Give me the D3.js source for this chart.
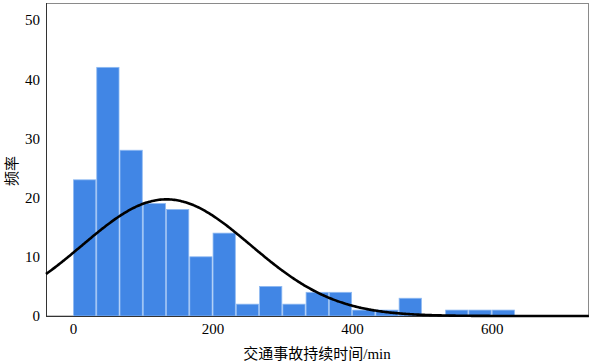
<!DOCTYPE html>
<html>
<head>
<meta charset="utf-8">
<script src="https://d3js.org/d3.v7.min.js"></script>
<style>
    body { margin: 0; background: #fff; }
    .lbl { font-family: "Liberation Serif", "Noto Sans CJK SC", serif; font-size: 15px; fill: #000; }
</style>
</head>
<body>
<svg width="591" height="363"></svg>
<script>
    // histogram counts, bins of width 600/18 starting at 0
    var binWidth = 600 / 18;
    var counts = [23, 42, 28, 19, 18, 10, 14, 2, 5, 2, 4, 4, 1, 1, 3, 0, 1, 1, 1];
    var xTicks = [0, 200, 400, 600];
    var yTicks = [0, 10, 20, 30, 40, 50];
    // fitted normal curve
    var mean = 134, sd = 120.8, n = 179;

    var svg = d3.select("svg");

    var x = d3.scaleLinear().domain([-38.7, 739.5]).range([46, 589]);
    var y = d3.scaleLinear().domain([0, 52.87]).range([316, 3]);

    // frame
    svg.append("rect")
        .attr("x", 46.5).attr("y", 3.5)
        .attr("width", 542).attr("height", 312.5)
        .attr("fill", "none")
        .attr("stroke", "#8a8a8a");

    // bars
    svg.append("g")
        .selectAll("rect")
        .data(counts)
        .enter().append("rect")
        .attr("x", function(d, i) { return x(i * binWidth) + 0.5; })
        .attr("y", function(d) { return y(d); })
        .attr("width", function(d, i) { return x((i + 1) * binWidth) - x(i * binWidth) - 1; })
        .attr("height", function(d) { return y(0) - y(d); })
        .attr("fill", "#4186e5")
        .attr("stroke", "#8fbaf2")
        .attr("stroke-width", 0.8);

    // axes
    svg.append("line")
        .attr("x1", 46.5).attr("x2", 46.5).attr("y1", 3).attr("y2", 316)
        .attr("stroke", "#333");
    svg.append("line")
        .attr("x1", 46).attr("x2", 589).attr("y1", 316.5).attr("y2", 316.5)
        .attr("stroke", "#333");

    var yAxis = svg.append("g")
        .attr("transform", "translate(46,0)")
        .call(d3.axisLeft(y).tickValues(yTicks).tickSize(0).tickPadding(6));
    yAxis.select(".domain").remove();

    var xAxis = svg.append("g")
        .attr("transform", "translate(0,316)")
        .call(d3.axisBottom(x).tickValues(xTicks).tickSize(0).tickPadding(7));
    xAxis.select(".domain").remove();

    svg.selectAll(".tick text")
        .attr("font-family", "Liberation Serif")
        .attr("font-size", 15)
        .attr("fill", "#000");
    yAxis.attr("font-family", null).attr("font-size", null);
    xAxis.attr("font-family", null).attr("font-size", null);

    // normal curve
    var xs = d3.range(-38.7, 739.6, 2);
    var line = d3.line()
        .x(function(d) { return x(d); })
        .y(function(d) {
            var z = (d - mean) / sd;
            return y(n * binWidth / (sd * Math.sqrt(2 * Math.PI)) * Math.exp(-0.5 * z * z));
        })
        .curve(d3.curveBasis);
    svg.append("path")
        .datum(xs)
        .attr("d", line)
        .attr("fill", "none")
        .attr("stroke", "#000")
        .attr("stroke-width", 2.6);

    // labels
    svg.append("text")
        .attr("class", "lbl")
        .attr("x", 317).attr("y", 359)
        .attr("text-anchor", "middle")
        .text("交通事故持续时间/min");
    svg.append("text")
        .attr("class", "lbl")
        .attr("transform", "translate(17,171) rotate(-90)")
        .attr("text-anchor", "middle")
        .attr("fill", "#333")
        .text("频率");
</script>
</body>
</html>
